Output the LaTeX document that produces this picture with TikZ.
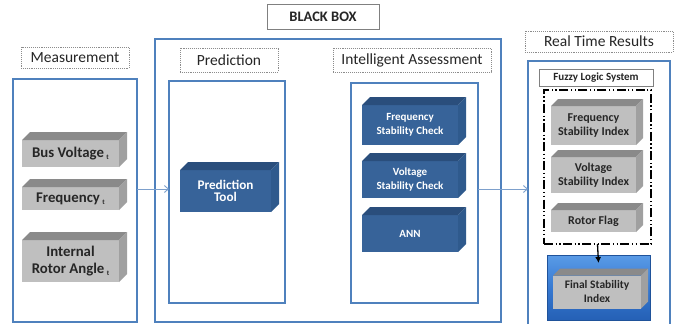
\documentclass[tikz,border=0pt]{standalone}
\usepackage{fontspec}
\setmainfont{Carlito}
\usetikzlibrary{calc,arrows.meta}
\definecolor{panelblue}{HTML}{4F81BD}
\definecolor{arrowblue}{HTML}{7DA0CC}
\definecolor{lblgray}{HTML}{8C8C8C}
\definecolor{gcfront}{HTML}{BFBFBF}
\definecolor{gctop}{HTML}{8A8A8A}
\definecolor{gcside}{HTML}{A0A0A0}
\definecolor{bcfront}{HTML}{376399}
\definecolor{bctop}{HTML}{2A4E7C}
\definecolor{bcside}{HTML}{2F5A8D}
\definecolor{txtdark}{HTML}{262626}
\definecolor{finlight}{HTML}{5A9BE6}
\definecolor{finmid}{HTML}{3679D2}
\definecolor{findark}{HTML}{2560B5}
\tikzset{
  panel/.style={draw=panelblue, line width=1.3pt, inner sep=0pt, outer sep=0pt},
  toplabel/.style={draw=lblgray, densely dotted, line width=0.9pt, inner sep=0pt, outer sep=0pt, font=\fontsize{15.5}{17}\selectfont, text=txtdark},
  solidlabel/.style={draw=gray, line width=0.8pt, inner sep=0pt, outer sep=0pt},
  gc front/.style={fill=gcfront, text=txtdark, inner sep=0pt, outer sep=0pt, align=center},
  gc top/.style={fill=gctop},
  gc side/.style={fill=gcside},
  bc front/.style={fill=bcfront, text=white, inner sep=0pt, outer sep=0pt, align=center},
  bc top/.style={fill=bctop},
  bc side/.style={fill=bcside},
  flowarrow/.style={draw=arrowblue, line width=0.9pt, -{Straight Barb[length=4pt,width=7pt]}},
}
% name, cx, cy, w, h, kind, depth, text
\newcommand{\cubebox}[8]{%
  \node[#6 front, minimum width=#4pt, minimum height=#5pt] (#1) at (#2,#3) {#8};
  \fill[#6 top] (#1.north west) -- ++(#7,-#7) -- ($(#1.north east)+(#7,-#7)$) -- (#1.north east) -- cycle;
  \fill[#6 side] (#1.north east) -- ++(#7,-#7) -- ($(#1.south east)+(#7,-#7)$) -- (#1.south east) -- cycle;
}
\newcommand{\subt}{\,{\fontsize{7}{7}\selectfont\raisebox{-2.5pt}{t}}}
\begin{document}
\begin{tikzpicture}[x=1pt, y=-1pt]
\clip (0,0) rectangle (678,324);
\fill[white] (0,0) rectangle (678,324);

% Black box
\node[solidlabel, minimum width=112pt, minimum height=25pt, font=\fontsize{14.5}{16}\selectfont\bfseries, text=txtdark] (bbl) at (323,16.5) {BLACK BOX};
\node[panel, minimum width=346pt, minimum height=283pt] (bigbox) at (328,180.5) {};

% Measurement
\node[toplabel, minimum width=108pt, minimum height=21pt] (measl) at (75,57.5) {Measurement};
\node[panel, minimum width=124pt, minimum height=243pt] (meas) at (75,200.5) {};
\begin{scope}[font=\fontsize{14.8}{16.5}\selectfont\bfseries]
\cubebox{bus}{70.5}{153.5}{97}{27}{gc}{8}{Bus Voltage\subt}
\cubebox{freq}{70.5}{198.5}{97}{23}{gc}{8}{Frequency\subt}
\cubebox{rotor}{70.5}{261}{97}{42}{gc}{8}{Internal\\Rotor Angle\subt}
\end{scope}

% Prediction
\node[toplabel, minimum width=98pt, minimum height=24pt] (predl) at (229,60) {Prediction};
\node[panel, minimum width=116pt, minimum height=222pt] (pred) at (227,192) {};
\cubebox{ptool}{225.5}{191}{91}{42}{bc}{8}{\fontsize{13.2}{15.5}\selectfont\bfseries Prediction\\\fontsize{13.2}{15.5}\selectfont\bfseries Tool}

% Intelligent Assessment
\node[toplabel, minimum width=158pt, minimum height=24pt] (ial) at (412,60) {Intelligent Assessment};
\node[panel, minimum width=127pt, minimum height=220pt] (ia) at (414.5,193) {};
\begin{scope}[font=\fontsize{11}{13.5}\selectfont\bfseries]
\cubebox{fsc}{410}{125}{96}{40}{bc}{8}{Frequency\\Stability Check}
\cubebox{vsc}{410}{179.5}{96}{37}{bc}{8}{Voltage\\Stability Check}
\cubebox{ann}{410}{233.5}{96}{37}{bc}{8}{ANN}
\end{scope}

% Real Time Results
\node[toplabel, minimum width=148pt, minimum height=21pt] (rtrl) at (599,41.5) {Real Time Results};
\node[panel, minimum width=142pt, minimum height=269pt] (rtr) at (599,195.5) {};
\node[solidlabel, minimum width=114pt, minimum height=17pt, font=\fontsize{11}{13}\selectfont\bfseries, text=txtdark] (fuzzy) at (596,77.5) {Fuzzy Logic System};
\node[draw=black, line width=1.2pt, dash pattern=on 9pt off 2.5pt on 1.3pt off 2.5pt on 1.3pt off 2.5pt, inner sep=0pt, outer sep=0pt, minimum width=107pt, minimum height=154pt] (fls) at (597.5,167) {};
\begin{scope}[font=\fontsize{12}{14}\selectfont\bfseries]
\cubebox{fsi}{593.5}{125.5}{85}{39}{gc}{7}{Frequency\\Stability Index}
\cubebox{vsi}{593.5}{175}{85}{36}{gc}{7}{Voltage\\Stability Index}
\cubebox{rf}{593.5}{221}{85}{22}{gc}{7}{Rotor Flag}
\end{scope}
\node[draw=findark!85!black, line width=0.8pt, top color=finlight, bottom color=findark, middle color=finmid, inner sep=0pt, outer sep=0pt, minimum width=103pt, minimum height=65pt] (finbox) at (598.5,287.5) {};
\begin{scope}[font=\fontsize{11.5}{14}\selectfont\bfseries]
\cubebox{fin}{597}{292}{88}{33}{gc}{7}{Final Stability\\Index}
\end{scope}

% Connectors
\coordinate (ay) at (0,189);
\draw[flowarrow] (meas.east |- ay) -- (pred.west |- ay);
\draw[flowarrow] (ia.east |- ay) -- (rtr.west |- ay);
\draw[line width=1.3pt, -{Latex[length=6pt,width=6pt]}] (fls.south) -- ($(finbox.north)+(0,8)$);
\end{tikzpicture}
\end{document}
